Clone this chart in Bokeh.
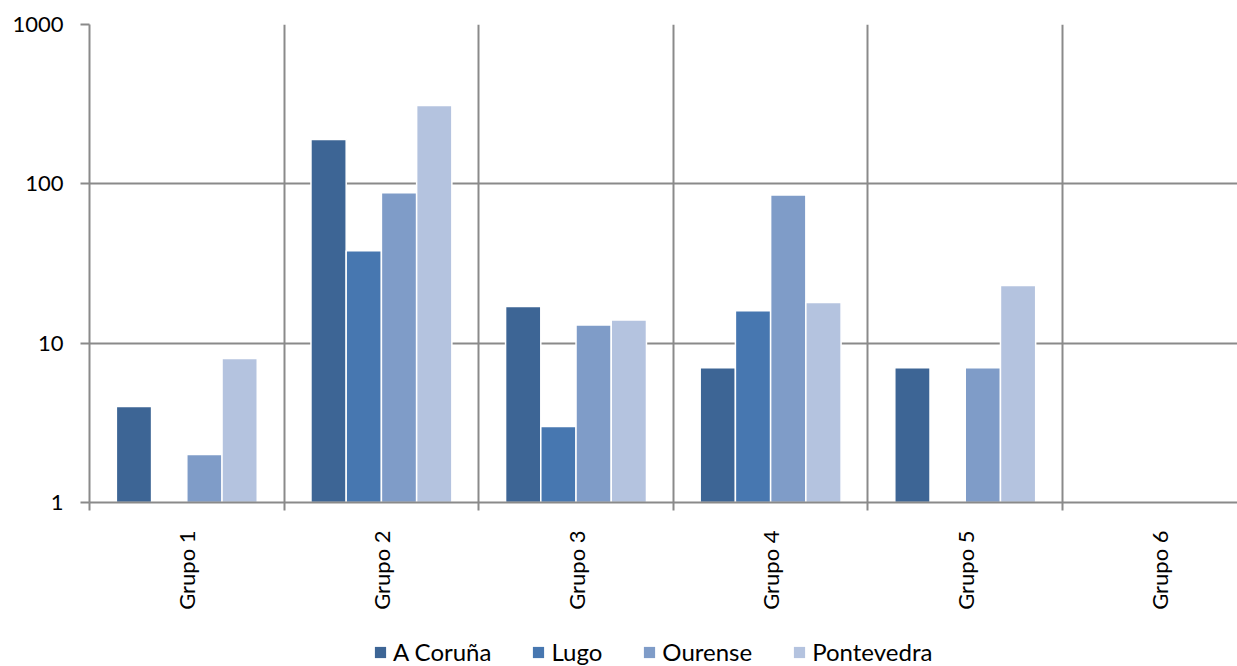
import numpy as np
from bokeh.plotting import figure
from bokeh.layouts import column
from bokeh.models import FixedTicker, NumeralTickFormatter, Legend, LegendItem
from bokeh.embed import file_html
from bokeh.resources import INLINE

# ---- data ----
groups = ["Grupo 1", "Grupo 2", "Grupo 3", "Grupo 4", "Grupo 5", "Grupo 6"]
series = ["A Coruña", "Lugo", "Ourense", "Pontevedra"]
a_coruna = [4, 190, 17, 7, 7, 0]
lugo = [0, 38, 3, 16, 0, 0]
ourense = [2, 88, 13, 85, 7, 0]
pontevedra = [8, 310, 14, 18, 23, 0]
y_ticks = [1, 10, 100, 1000]

values = [a_coruna, lugo, ourense, pontevedra]
colors = ["#3D6595", "#4777B0", "#7F9CC8", "#B4C3DF"]

FONT = "Lato"
GRID = "#8A8A8A"

p = figure(width=1237, height=638, y_axis_type="log",
           x_range=(0, 5.899), y_range=(1, 1000),
           output_backend="svg", toolbar_location=None,
           min_border_left=89, min_border_right=0,
           min_border_top=24, min_border_bottom=136)
p.outline_line_color = None
p.background_fill_color = "white"
p.border_fill_color = "white"

bar_w = 0.181
n = len(series)
for j, (name, vals, col) in enumerate(zip(series, values, colors)):
    xs, tops = [], []
    for i, v in enumerate(vals):
        if v > 0:
            xs.append(i + 0.5 + (j - (n - 1) / 2) * bar_w)
            tops.append(v)
    p.vbar(x=xs, top=tops, bottom=1, width=bar_w, fill_color=col,
           line_color="white", line_width=1.5)

# y axis
p.yaxis.ticker = FixedTicker(ticks=y_ticks, minor_ticks=[])
p.yaxis.formatter = NumeralTickFormatter(format="0")
p.yaxis.major_label_text_font = FONT
p.yaxis.major_label_text_font_size = "22px"
p.yaxis.major_label_text_color = "black"
p.yaxis.major_label_standoff = 17
p.yaxis.major_tick_out = 9
p.yaxis.major_tick_in = 0
p.yaxis.major_tick_line_color = GRID
p.yaxis.major_tick_line_width = 2
p.yaxis.minor_tick_line_color = None
p.yaxis.axis_line_color = GRID
p.yaxis.axis_line_width = 2

# x axis
centers = [i + 0.5 for i in range(len(groups))]
bounds = list(range(len(groups) + 1))
p.xaxis.ticker = FixedTicker(ticks=centers, minor_ticks=bounds)
p.xaxis.major_label_overrides = {c: g for c, g in zip(centers, groups)}
p.xaxis.major_label_orientation = np.pi / 2
p.xaxis.major_label_text_font = FONT
p.xaxis.major_label_text_font_size = "22px"
p.xaxis.major_label_text_color = "black"
p.xaxis.major_label_standoff = 20
p.xaxis.major_tick_out = 0
p.xaxis.major_tick_in = 0
p.xaxis.minor_tick_out = 8
p.xaxis.minor_tick_in = 0
p.xaxis.minor_tick_line_color = GRID
p.xaxis.minor_tick_line_width = 2
p.xaxis.axis_line_color = GRID
p.xaxis.axis_line_width = 2

# grids
p.xgrid.ticker = FixedTicker(ticks=bounds)
p.xgrid.grid_line_color = GRID
p.xgrid.grid_line_width = 2
p.ygrid.ticker = FixedTicker(ticks=y_ticks)
p.ygrid.grid_line_color = GRID
p.ygrid.grid_line_width = 2

# legend strip (separate figure below the chart; zero-size proxy glyphs)
pl = figure(width=1237, height=28, x_range=(0, 1), y_range=(0, 1),
            output_backend="svg", toolbar_location=None,
            min_border=0)
pl.axis.visible = False
pl.grid.visible = False
pl.outline_line_color = None
items = []
for name, col in zip(series, colors):
    r = pl.vbar(x=[0], top=[0], bottom=0, width=0, fill_color=col,
                line_color=None)
    items.append(LegendItem(label=name, renderers=[r]))
lg = Legend(items=items, orientation="horizontal", location=(284, 0),
            border_line_color=None, background_fill_alpha=0,
            padding=0, margin=0, spacing=40, glyph_width=14, glyph_height=14,
            label_standoff=6, label_text_font=FONT,
            label_text_font_size="24px", label_text_color="black",
            label_height=26)
pl.add_layout(lg, "center")

layout = column(p, pl, spacing=0)
open("out.html", "w").write(file_html(layout, INLINE))
